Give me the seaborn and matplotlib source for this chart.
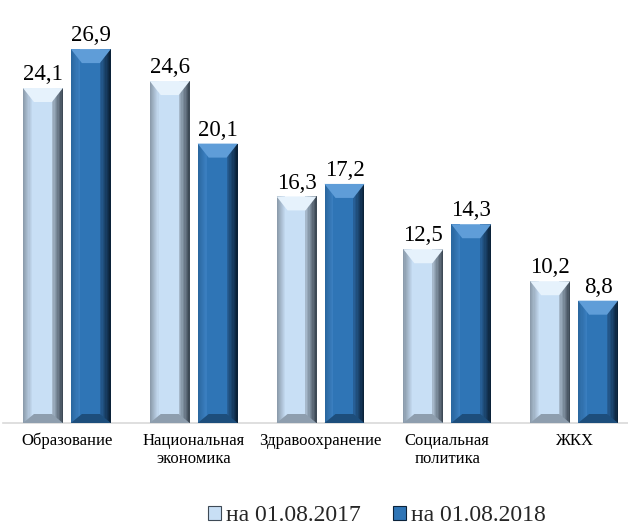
import matplotlib
matplotlib.use("Agg")
import matplotlib.pyplot as plt
import numpy as np
import pandas as pd
import seaborn as sns
from matplotlib.colors import to_rgb
from matplotlib.patches import Patch, Polygon, Rectangle

categories = ["Образование", "Национальная\nэкономика", "Здравоохранение",
              "Социальная\nполитика", "ЖКХ"]
series = ["на 01.08.2017", "на 01.08.2018"]
values_2017 = [24.1, 24.6, 16.3, 12.5, 10.2]
values_2018 = [26.9, 20.1, 17.2, 14.3, 8.8]

FACE = {series[0]: "#C8DFF5", series[1]: "#2F75B6"}
# bevel shades: top, bottom, left (outer, inner), right (inner, outer)
BEVEL = {
    series[0]: {"top": "#E6F2FC", "bottom": "#8E9EAE",
                "left": ("#8C9CAC", "#C0D6EC"), "right": ("#A6B8CA", "#3E4A56")},
    series[1]: {"top": "#5F9DD8", "bottom": "#1D4E7C",
                "left": ("#2A679F", "#3A7EBF"), "right": ("#275F96", "#0B2239")},
}

df = pd.DataFrame({
    "category": categories * 2,
    "series": [series[0]] * len(categories) + [series[1]] * len(categories),
    "value": values_2017 + values_2018,
})

sns.set_theme(style="white")
plt.rcParams["font.family"] = ["Liberation Serif", "DejaVu Serif"]

W, H = 628, 529
fig = plt.figure(figsize=(W / 100, H / 100), dpi=100)
ax_left, ax_width = 3.5, 634
ax_bottom, ax_height = H - 423, 417
ax = fig.add_axes([ax_left / W, ax_bottom / H, ax_width / W, ax_height / H])

sns.barplot(data=df, x="category", y="value", hue="series", palette=FACE,
            width=0.756, gap=0.167, saturation=1, legend=False, ax=ax)

ymax = 30.0
ax.set_xlim(-0.5, len(categories) - 0.5)
ax.set_ylim(0, ymax)

# pixel sizes in data units, for the bevel
px_x = len(categories) / ax_width
px_y = ymax / ax_height
dx, dy_top, dy_bot = 11 * px_x, 14 * px_y, 9 * px_y


def blend(c1, c2, t):
    a, b = np.array(to_rgb(c1)), np.array(to_rgb(c2))
    return tuple(a + (b - a) * t)


for container, name in zip(ax.containers, series):
    shades = BEVEL[name]
    for p in container:
        x0, y0 = p.get_x(), p.get_y()
        x1, y1 = x0 + p.get_width(), y0 + p.get_height()
        n = 8
        for i in range(n):
            t = i / (n - 1)
            ax.add_patch(Rectangle((x0 + dx * 0.8 * i / n, y0), dx * 0.8 / n * 1.05, y1 - y0,
                                   color=blend(*shades["left"], t), lw=0, zorder=3))
            ax.add_patch(Rectangle((x1 - dx + dx * i / n, y0), dx / n * 1.05, y1 - y0,
                                   color=blend(*shades["right"], t), lw=0, zorder=3))
        ax.add_patch(Polygon([(x0, y1), (x1, y1), (x1 - dx, y1 - dy_top), (x0 + dx, y1 - dy_top)],
                             color=shades["top"], lw=0, zorder=4))
        ax.add_patch(Polygon([(x0, y0), (x1, y0), (x1 - dx, y0 + dy_bot), (x0 + dx, y0 + dy_bot)],
                             color=shades["bottom"], lw=0, zorder=4))

    ax.bar_label(container, labels=[f"{v:.1f}".replace(".", ",") for v in container.datavalues],
                 padding=2, fontsize=16.5, color="black")

for side in ["top", "left", "right"]:
    ax.spines[side].set_visible(False)
ax.spines["bottom"].set_color("#D9D9D9")
ax.spines["bottom"].set_linewidth(1.2)

ax.set_xlabel("")
ax.set_ylabel("")
ax.set_yticks([])
ax.tick_params(axis="x", length=0, pad=7, labelsize=12, labelcolor="black")
for lab in ax.get_xticklabels():
    lab.set_linespacing(1.15)
    lab.set_verticalalignment("top")

handles = [Patch(facecolor=FACE[s], edgecolor=BEVEL[s]["right"][1], linewidth=0.8, label=s)
           for s in series]
fig.legend(handles=handles, loc="lower center", bbox_to_anchor=(0.60, -0.035), ncol=2,
           frameon=False, fontsize=17, handlelength=0.55, handleheight=0.55,
           handletextpad=0.2, columnspacing=1.4)

fig.savefig("out.png", dpi=100)
